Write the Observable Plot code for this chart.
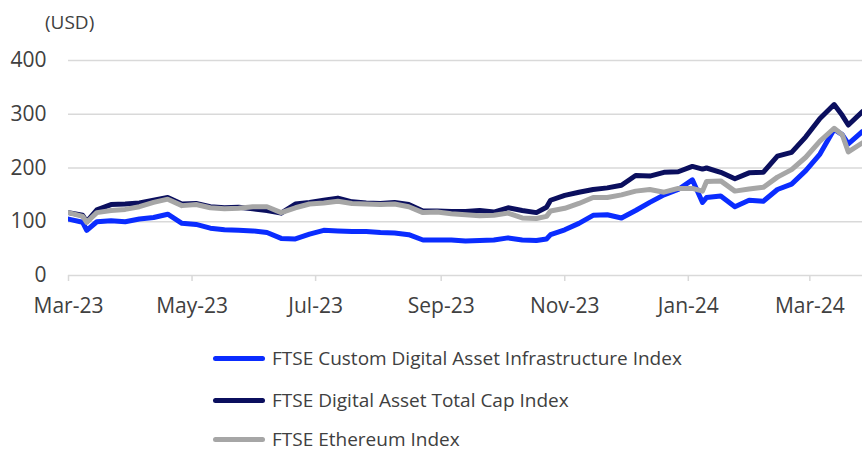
<!DOCTYPE html>
<html>
<head>
<meta charset="utf-8">
<script src="https://cdn.jsdelivr.net/npm/d3@7"></script>
<script src="https://cdn.jsdelivr.net/npm/@observablehq/plot@0.6"></script>
<style>
  html, body { margin: 0; padding: 0; background: #fff; }
  #wrap { position: relative; width: 862px; height: 452px; font-family: "Open Sans", sans-serif; color: #404040; overflow: hidden; }
  #unit { position: absolute; left: 45px; top: 9px; font-size: 19px; line-height: 26px; }
  #chart { position: absolute; left: 0; top: 0; }
  .leg { position: absolute; left: 213px; height: 20px; line-height: 20px; display: flex; align-items: center; font-size: 19px; white-space: nowrap; }
  .leg span.sw { display: inline-block; width: 52px; height: 5px; border-radius: 3px; margin-right: 7px; }
</style>
</head>
<body>
<div id="wrap">
  <div id="chart"></div>
  <div id="unit">(USD)</div>
  <div id="legend"></div>
</div>
<script>
const seriesNames = [
  "FTSE Custom Digital Asset Infrastructure Index",
  "FTSE Digital Asset Total Cap Index",
  "FTSE Ethereum Index"
];
const seriesColors = ["#0a2cff", "#0b0f5e", "#a6a6a6"];

const dates = [
  "2023-03-01","2023-03-08","2023-03-10","2023-03-15","2023-03-22","2023-03-29",
  "2023-04-05","2023-04-12","2023-04-19","2023-04-26",
  "2023-05-03","2023-05-10","2023-05-17","2023-05-24","2023-05-31",
  "2023-06-07","2023-06-14","2023-06-21","2023-06-28",
  "2023-07-05","2023-07-12","2023-07-19","2023-07-26",
  "2023-08-02","2023-08-09","2023-08-16","2023-08-23","2023-08-30",
  "2023-09-06","2023-09-13","2023-09-20","2023-09-27",
  "2023-10-04","2023-10-11","2023-10-18","2023-10-23","2023-10-25",
  "2023-11-01","2023-11-08","2023-11-15","2023-11-22","2023-11-29",
  "2023-12-06","2023-12-13","2023-12-20","2023-12-27",
  "2024-01-03","2024-01-08","2024-01-10","2024-01-17","2024-01-24","2024-01-31",
  "2024-02-07","2024-02-14","2024-02-21","2024-02-28",
  "2024-03-06","2024-03-13","2024-03-17","2024-03-20","2024-03-27"
];

const infrastructure = [
  105, 99, 84, 100, 102, 100,
  105, 108, 114, 97,
  95, 88, 85, 84, 83,
  80, 69, 68, 77,
  84, 83, 82, 82,
  80, 79, 76, 66, 66,
  66, 64, 65, 66,
  70, 66, 65, 68, 76,
  85, 97, 112, 113, 107,
  121, 136, 150, 160,
  178, 136, 145, 148, 128, 140,
  138, 160, 170, 195,
  226, 272, 262, 245, 268
];

const totalCap = [
  117, 112, 100, 122, 132, 133,
  135, 140, 145, 133,
  134, 128, 126, 127, 124,
  121, 116, 133, 136,
  140, 144, 137, 135,
  134, 136, 132, 120, 120,
  119, 119, 121, 118,
  126, 121, 117, 127, 140,
  149, 155, 160, 163, 168,
  186, 185, 192, 193,
  203, 198, 200, 192, 180, 191,
  192, 222, 229, 258,
  292, 318, 298, 280, 305
];

const ethereum = [
  117, 110, 99, 117, 121, 123,
  128, 136, 142, 130,
  132, 126, 124, 125, 128,
  128, 117, 126, 133,
  135, 138, 134, 133,
  132, 133, 128, 117, 118,
  115, 113, 111, 112,
  116, 107, 106, 110, 120,
  125, 134, 145, 145, 150,
  157, 160, 155, 162,
  162, 157, 175, 176, 157, 161,
  164, 183, 197, 220,
  250, 274, 262, 230, 247
];

const yTicks = [0, 100, 200, 300, 400];
const xTickDates = ["2023-03-01","2023-05-01","2023-07-01","2023-09-01","2023-11-01","2024-01-01","2024-03-01"];
const xTickLabels = ["Mar-23","May-23","Jul-23","Sep-23","Nov-23","Jan-24","Mar-24"];

const parse = d3.utcParse("%Y-%m-%d");
const valueSets = [infrastructure, totalCap, ethereum];
const rows = [];
seriesNames.forEach((name, s) => {
  dates.forEach((d, i) => rows.push({date: parse(d), value: valueSets[s][i], series: name}));
});
const tickMap = new Map(xTickDates.map((d, i) => [+parse(d), xTickLabels[i]]));

const chart = Plot.plot({
  width: 862,
  height: 330,
  marginLeft: 68,
  marginRight: 0,
  marginTop: 60,
  marginBottom: 55,
  style: {fontFamily: "'Open Sans', sans-serif", color: "#404040", background: "transparent", overflow: "visible"},
  x: {type: "utc", domain: [parse("2023-03-01"), parse("2024-03-27")]},
  y: {domain: [0, 400]},
  color: {domain: seriesNames, range: seriesColors},
  marks: [
    Plot.gridY(yTicks.filter(d => d > 0), {stroke: "#d9d9d9", strokeOpacity: 1, strokeWidth: 1.5}),
    Plot.ruleY([0], {stroke: "#d9d9d9", strokeWidth: 1.5}),
    Plot.axisY({ticks: yTicks, tickSize: 0, tickPadding: 22, fontSize: 21, label: null}),
    Plot.axisX({ticks: xTickDates.map(parse), tickFormat: d => tickMap.get(+d), tickSize: 6, tickPadding: 17, stroke: "#d9d9d9", strokeWidth: 1.5, fontSize: 21, label: null}),
    Plot.line(rows, {x: "date", y: "value", z: "series", stroke: "series", strokeWidth: 5, strokeLinejoin: "round", strokeLinecap: "round", clip: true})
  ]
});
document.getElementById("chart").appendChild(chart);

const legend = document.getElementById("legend");
const legendTops = [348, 390, 429];
seriesNames.forEach((name, i) => {
  const item = document.createElement("div");
  item.className = "leg";
  item.style.top = legendTops[i] + "px";
  item.innerHTML = `<span class="sw" style="background:${seriesColors[i]}"></span><span>${name}</span>`;
  legend.appendChild(item);
});
</script>
</body>
</html>
